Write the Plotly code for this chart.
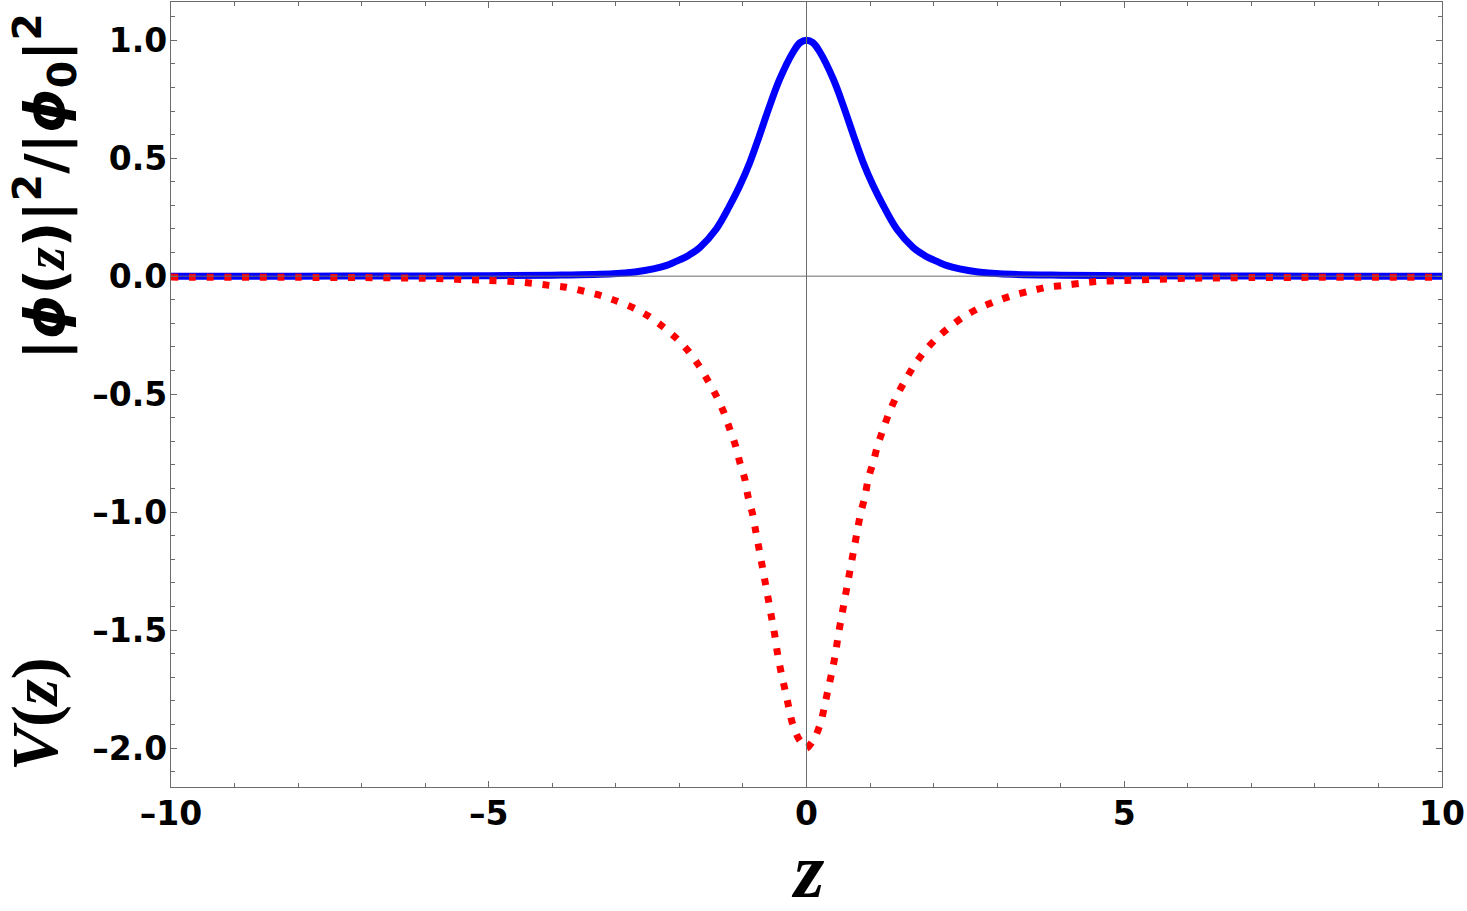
import plotly.graph_objects as go

# ---- data ----
blue_z = [-10, -8, -6, -5, -4, -3.04, -2.7, -2.41, -2.2, -1.99, -1.85, -1.68, -1.42, -1.21, -1.05, -0.89, -0.74, -0.58,
          -0.42, -0.21, -0.1,
          0, 0.1, 0.21, 0.42, 0.58, 0.74, 0.89, 1.05, 1.21, 1.42, 1.68, 1.85, 1.99, 2.2, 2.41, 2.7, 3.04, 4, 5, 6, 8, 10]
blue_v = [0.0, 0.0, 0.001, 0.002, 0.004, 0.01, 0.018, 0.031, 0.046, 0.07, 0.089, 0.121, 0.2, 0.298, 0.383, 0.483,
          0.596, 0.722, 0.836, 0.95, 0.99,
          1.0, 0.99, 0.95, 0.836, 0.722, 0.596, 0.483, 0.383, 0.298, 0.2, 0.121, 0.089, 0.07, 0.046, 0.031, 0.018,
          0.01, 0.004, 0.002, 0.001, 0.0, 0.0]

red_z = [-10, -8, -7, -6, -5.0, -4.56, -4.32, -4.05, -3.78, -3.5, -3.23, -2.98, -2.71, -2.47, -2.25, -2.04, -1.85, -1.69,
         -1.55, -1.42, -1.3, -1.21, -1.12, -1.05, -0.97, -0.92, -0.85, -0.8, -0.75, -0.7, -0.65, -0.6, -0.55, -0.5,
         -0.46, -0.41, -0.35, -0.29, -0.23, -0.13,
         0,
         0.13, 0.23, 0.29, 0.35, 0.41, 0.46, 0.5, 0.55, 0.6, 0.65, 0.7, 0.75, 0.8, 0.85, 0.92, 0.97, 1.05, 1.12,
         1.21, 1.3, 1.42, 1.55, 1.69, 1.85, 2.04, 2.25, 2.47, 2.71, 2.98, 3.23, 3.5, 3.78, 4.05, 4.32, 4.56, 5.0,
         6, 7, 8, 10]
red_v = [-0.004, -0.005, -0.006, -0.009, -0.018, -0.023, -0.03, -0.039, -0.047, -0.064, -0.083, -0.106, -0.136, -0.172,
         -0.216, -0.265, -0.32, -0.38, -0.443, -0.507, -0.578, -0.646, -0.716, -0.788, -0.86, -0.934, -1.006, -1.079,
         -1.151, -1.224, -1.298, -1.371, -1.446, -1.52, -1.593, -1.665, -1.739, -1.813, -1.887, -1.957,
         -2.0,
         -1.957, -1.887, -1.813, -1.739, -1.665, -1.593, -1.52, -1.446, -1.371, -1.298, -1.224, -1.151, -1.079, -1.006,
         -0.934, -0.86, -0.788, -0.716, -0.646, -0.578, -0.507, -0.443, -0.38, -0.32, -0.265, -0.216, -0.172, -0.136,
         -0.106, -0.083, -0.064, -0.047, -0.039, -0.03, -0.023, -0.018, -0.009, -0.006, -0.005, -0.004]

x_tickvals = [-10, -5, 0, 5, 10]
x_ticktext = ["\u201310", "\u20135", "0", "5", "10"]
y_tickvals = [-2.0, -1.5, -1.0, -0.5, 0.0, 0.5, 1.0]
y_ticktext = ["\u20132.0", "\u20131.5", "\u20131.0", "\u20130.5", "0.0", "0.5", "1.0"]

x_range = [-10, 10]
y_range = [-2.165, 1.162]

frame_color = "#6b6b6b"
tick_font = dict(family="DejaVu Sans", size=33, color="black", weight="bold")

fig = go.Figure()
fig.add_trace(go.Scatter(x=blue_z, y=blue_v, mode="lines",
                         line=dict(color="#0000ff", width=7, shape="spline", smoothing=1.0),
                         showlegend=False, hoverinfo="skip"))
fig.add_trace(go.Scatter(x=red_z, y=red_v, mode="lines",
                         line=dict(color="#ff0000", width=7, dash="7px,10.7px", shape="spline", smoothing=0.6),
                         showlegend=False, hoverinfo="skip"))

axis_common = dict(showgrid=False, zeroline=False, showline=True, linecolor=frame_color, linewidth=1.2,
                   mirror="ticks", ticks="inside", ticklen=6, tickwidth=1, tickcolor=frame_color,
                   tickfont=tick_font, layer="above traces", automargin=False)

fig.update_xaxes(range=x_range, tickvals=x_tickvals, ticktext=x_ticktext, ticklabelstandoff=-3,
                 minor=dict(dtick=1, ticks="inside", ticklen=3.5, tickcolor=frame_color, showgrid=False),
                 **axis_common)
fig.update_yaxes(range=y_range, tickvals=y_tickvals, ticktext=y_ticktext, ticklabelstandoff=-4,
                 minor=dict(dtick=0.1, ticks="inside", ticklen=3.5, tickcolor=frame_color, showgrid=False),
                 **axis_common)

# axis lines through the origin, drawn above the curves
fig.add_shape(type="line", xref="x domain", yref="y", x0=0, x1=1, y0=0, y1=0,
              line=dict(color=frame_color, width=1), layer="above")
fig.add_shape(type="line", xref="x", yref="y domain", x0=0, x1=0, y0=0, y1=1,
              line=dict(color=frame_color, width=1), layer="above")

serif = "Liberation Serif"
fig.add_annotation(xref="paper", yref="paper", x=-0.099, y=0.765, xanchor="center", yanchor="middle",
                   textangle=-90, showarrow=False,
                   text=("<b>|<i>\u03d5</i>(<span style='font-family:Liberation Serif'><i>z</i></span>)|<sup>2</sup>"
                         "/|<i>\u03d5</i><sub>0</sub>|<sup>2</sup></b>"),
                   font=dict(family="DejaVu Sans", size=56, color="black"))
fig.add_annotation(xref="paper", yref="paper", x=-0.1065, y=0.0925, xanchor="center", yanchor="middle",
                   textangle=-90, showarrow=False,
                   text="<b><i>V</i>(<i>z</i>)</b>",
                   font=dict(family=serif, size=66, color="black"))
fig.add_annotation(xref="paper", yref="paper", x=0.501, y=-0.106, xanchor="center", yanchor="middle",
                   showarrow=False, text="<b><i>z</i></b>",
                   font=dict(family=serif, size=78, color="black"))

fig.update_layout(width=1467, height=911, paper_bgcolor="white", plot_bgcolor="white",
                  margin=dict(l=171, r=25, t=2, b=124), showlegend=False)

fig.write_html("out.html", config={"displayModeBar": False},
               post_script="document.body.style.margin='0';")
